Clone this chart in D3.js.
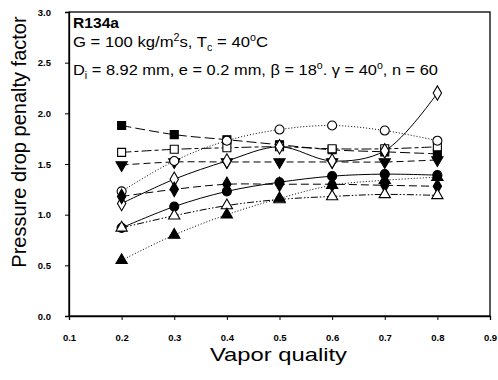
<!DOCTYPE html>
<html><head><meta charset="utf-8">
<script src="https://cdn.jsdelivr.net/npm/d3@7"></script>
<style>body{margin:0;background:#fff}svg{display:block}</style>
</head><body>
<svg id="c" width="498" height="380"></svg>
<script>
const xValues = [0.2, 0.3, 0.4, 0.5, 0.6, 0.7, 0.8];
const filledSquare = [1.88, 1.79, 1.74, 1.69, 1.64, 1.62, 1.60];
const openSquare   = [1.615, 1.645, 1.66, 1.67, 1.65, 1.65, 1.67];
const triangleDown = [1.49, 1.52, 1.52, 1.52, 1.52, 1.52, 1.54];
const openCircle   = [1.23, 1.53, 1.73, 1.84, 1.88, 1.83, 1.73];
const openDiamond  = [1.11, 1.35, 1.53, 1.67, 1.53, 1.63, 2.20];
const filledDiamond= [1.18, 1.25, 1.30, 1.30, 1.30, 1.29, 1.28];
const filledCircle = [0.87, 1.08, 1.23, 1.32, 1.38, 1.40, 1.39];
const openTriangle = [0.87, 0.99, 1.09, 1.15, 1.18, 1.20, 1.19];
const filledTriangle=[0.55, 0.80, 1.00, 1.16, 1.29, 1.34, 1.37];
const xTicks = [0.1,0.2,0.3,0.4,0.5,0.6,0.7,0.8,0.9];
const yTicks = [0.0,0.5,1.0,1.5,2.0,2.5,3.0];

const series = [
  {v: filledSquare, sym: d3.symbolSquare, fill: "#000", dash: "10,4", size: 64},
  {v: openSquare, sym: d3.symbolSquare, fill: "#fff", dash: "10,3,4,3", size: 64},
  {v: triangleDown, sym: d3.symbolTriangle, fill: "#000", dash: "7,4", size: 55, rot: 180},
  {v: openCircle, sym: d3.symbolCircle, fill: "#fff", dash: "1,2", size: 64},
  {v: openDiamond, sym: d3.symbolDiamond, fill: "#fff", dash: null, size: 60},
  {v: filledDiamond, sym: d3.symbolDiamond, fill: "#000", dash: "8,4", size: 60},
  {v: filledCircle, sym: d3.symbolCircle, fill: "#000", dash: null, size: 64},
  {v: openTriangle, sym: d3.symbolTriangle, fill: "#fff", dash: "7,2,1.5,2,1.5,2", size: 55},
  {v: filledTriangle, sym: d3.symbolTriangle, fill: "#000", dash: "1,2", size: 55}
];

const svg = d3.select("#c");
const L = 69, R = 490, T = 12, B = 316;
const x = d3.scaleLinear().domain([0.1, 0.9]).range([L, R]);
const y = d3.scaleLinear().domain([0, 3]).range([B, T]);

svg.append("rect").attr("x", L).attr("y", T).attr("width", R - L).attr("height", B - T)
  .attr("fill", "none").attr("stroke", "#000").attr("stroke-width", 1.3);

const xa = svg.append("g").attr("transform", `translate(0,${B})`)
  .call(d3.axisBottom(x).tickValues(xTicks).tickSize(4).tickPadding(14).tickFormat(d3.format(".1f")));
const ya = svg.append("g").attr("transform", `translate(${L},0)`)
  .call(d3.axisLeft(y).tickValues(yTicks).tickSize(4).tickPadding(14).tickFormat(d3.format(".1f")));
[xa, ya].forEach(a => {
  a.select(".domain").attr("stroke-width", 1.3);
  a.selectAll("text").attr("font-family", "Arial, 'Liberation Sans', sans-serif")
    .attr("font-size", 9.5).attr("font-weight", "bold").attr("fill", "#000");
});

const line = d3.line().x((d, i) => x(xValues[i])).y(d => y(d)).curve(d3.curveCatmullRom.alpha(0.5));
series.forEach(s => {
  svg.append("path").attr("d", line(s.v)).attr("fill", "none").attr("stroke", "#000")
    .attr("stroke-width", 1).attr("stroke-dasharray", s.dash);
});
series.forEach(s => {
  svg.append("g").selectAll("path").data(s.v).join("path")
    .attr("d", d3.symbol().type(s.sym).size(s.size))
    .attr("transform", (d, i) => `translate(${x(xValues[i])},${y(d)})` + (s.rot ? ` rotate(${s.rot})` : ""))
    .attr("fill", s.fill).attr("stroke", "#000").attr("stroke-width", 1.1);
});

const F = "Arial, 'Liberation Sans', sans-serif";
svg.append("text").attr("x", 73).attr("y", 28).attr("font-family", F).attr("font-size", 14)
  .attr("font-weight", "bold").attr("textLength", 46).attr("lengthAdjust", "spacingAndGlyphs").text("R134a");
const t2 = svg.append("text").attr("x", 73).attr("y", 47).attr("font-family", F).attr("font-size", 15.5)
  .attr("textLength", 195).attr("lengthAdjust", "spacingAndGlyphs");
t2.append("tspan").text("G = 100 kg/m");
t2.append("tspan").attr("dy", -6).attr("font-size", 10).text("2");
t2.append("tspan").attr("dy", 6).text("s, T");
t2.append("tspan").attr("dy", 4).attr("font-size", 10).text("c");
t2.append("tspan").attr("dy", -4).text(" = 40");
t2.append("tspan").attr("dy", -6).attr("font-size", 10).text("o");
t2.append("tspan").attr("dy", 6).text("C");
const t3 = svg.append("text").attr("x", 73).attr("y", 75).attr("font-family", F).attr("font-size", 15.5)
  .attr("textLength", 365).attr("lengthAdjust", "spacingAndGlyphs");
t3.append("tspan").text("D");
t3.append("tspan").attr("dy", 4).attr("font-size", 10).text("i");
t3.append("tspan").attr("dy", -4).text(" = 8.92 mm, e = 0.2 mm, β = 18");
t3.append("tspan").attr("dy", -6).attr("font-size", 10).text("o");
t3.append("tspan").attr("dy", 6).text(". γ = 40");
t3.append("tspan").attr("dy", -6).attr("font-size", 10).text("o");
t3.append("tspan").attr("dy", 6).text(", n = 60");

svg.append("text").attr("x", 210).attr("y", 361)
  .attr("font-family", F).attr("font-size", 19).attr("textLength", 137).attr("lengthAdjust", "spacingAndGlyphs")
  .text("Vapor quality");
svg.append("text").attr("transform", "translate(26,142) rotate(-90)").attr("text-anchor", "middle")
  .attr("font-family", F).attr("font-size", 20).text("Pressure drop penalty factor");
</script>
</body></html>
